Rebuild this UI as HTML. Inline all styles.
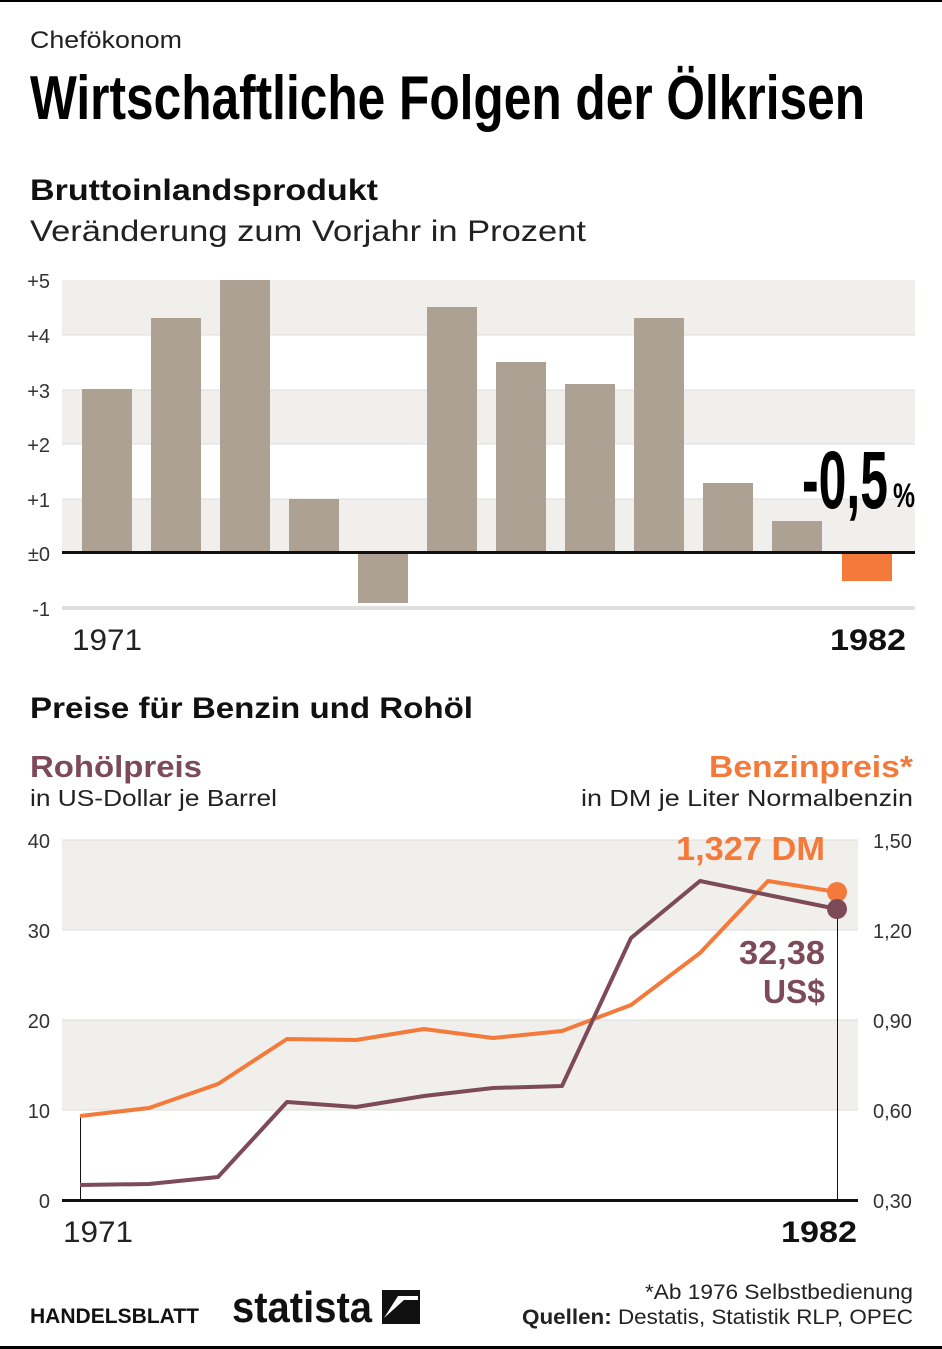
<!DOCTYPE html>
<html><head><meta charset="utf-8"><style>
html,body{margin:0;padding:0;background:#fff;}
svg{display:block;font-family:"Liberation Sans",sans-serif;}
</style></head><body>
<svg width="942" height="1349" viewBox="0 0 942 1349" xmlns="http://www.w3.org/2000/svg">
<rect x="0" y="0" width="942" height="2" fill="#000"/>
<rect x="0" y="1346" width="942" height="3" fill="#000"/>
<text x="30" y="48" font-size="24" fill="#222" textLength="152" lengthAdjust="spacingAndGlyphs">Chefökonom</text>
<text x="30" y="119" font-size="62" font-weight="bold" fill="#000" textLength="835" lengthAdjust="spacingAndGlyphs">Wirtschaftliche Folgen der Ölkrisen</text>
<text x="30" y="200" font-size="30" font-weight="bold" fill="#111" textLength="348" lengthAdjust="spacingAndGlyphs">Bruttoinlandsprodukt</text>
<text x="30" y="241" font-size="30" fill="#222" textLength="556" lengthAdjust="spacingAndGlyphs">Veränderung zum Vorjahr in Prozent</text>

<!-- top chart bands -->
<g fill="#f0efeb">
<rect x="62" y="280" width="853" height="55"/>
<rect x="62" y="390" width="853" height="54"/>
<rect x="62" y="499" width="853" height="54"/>
<rect x="62" y="606" width="853" height="4" fill="#e2e0dc"/>
</g>
<g stroke="#ddd" stroke-width="1">
<line x1="62" y1="335" x2="915" y2="335"/><line x1="62" y1="390" x2="915" y2="390"/>
<line x1="62" y1="444" x2="915" y2="444"/><line x1="62" y1="499" x2="915" y2="499"/>
</g>
<g font-size="20" fill="#333" text-anchor="end">
<text x="50" y="288">+5</text><text x="50" y="343">+4</text><text x="50" y="398">+3</text>
<text x="50" y="452">+2</text><text x="50" y="507">+1</text><text x="50" y="561">±0</text><text x="50" y="616">-1</text>
</g>
<g fill="#ada194">
<rect x="82" y="389" width="50" height="164"/>
<rect x="151" y="318" width="50" height="235"/>
<rect x="220" y="280" width="50" height="273"/>
<rect x="289" y="499" width="50" height="54"/>
<rect x="358" y="553" width="50" height="50"/>
<rect x="427" y="307" width="50" height="246"/>
<rect x="496" y="362" width="50" height="191"/>
<rect x="565" y="384" width="50" height="169"/>
<rect x="634" y="318" width="50" height="235"/>
<rect x="703" y="483" width="50" height="70"/>
<rect x="772" y="521" width="50" height="32"/>
</g>
<rect x="842" y="553" width="50" height="28" fill="#f47a3c"/>
<rect x="62" y="551" width="853" height="3" fill="#111"/>
<text x="802" y="508" font-size="82" font-weight="bold" fill="#000" textLength="86" lengthAdjust="spacingAndGlyphs">-0,5</text>
<text x="893" y="507" font-size="34" font-weight="bold" fill="#000" textLength="22" lengthAdjust="spacingAndGlyphs">%</text>
<text x="72" y="650" font-size="30" fill="#222" textLength="70" lengthAdjust="spacingAndGlyphs">1971</text>
<text x="830" y="650" font-size="30" font-weight="bold" fill="#111" textLength="76" lengthAdjust="spacingAndGlyphs">1982</text>

<text x="30" y="718" font-size="30" font-weight="bold" fill="#111" textLength="443" lengthAdjust="spacingAndGlyphs">Preise für Benzin und Rohöl</text>
<text x="30" y="777" font-size="31" font-weight="bold" fill="#7d4a5a" textLength="172" lengthAdjust="spacingAndGlyphs">Rohölpreis</text>
<text x="30" y="806" font-size="23" fill="#222" textLength="247" lengthAdjust="spacingAndGlyphs">in US-Dollar je Barrel</text>
<text x="709" y="777" font-size="31" font-weight="bold" fill="#f47a3c" textLength="204" lengthAdjust="spacingAndGlyphs">Benzinpreis*</text>
<text x="581" y="806" font-size="23" fill="#222" textLength="332" lengthAdjust="spacingAndGlyphs">in DM je Liter Normalbenzin</text>

<!-- bottom chart -->
<g fill="#f0efeb">
<rect x="62" y="840" width="796" height="90"/>
<rect x="62" y="1020" width="796" height="90"/>
</g>
<g stroke="#ddd" stroke-width="1">
<line x1="62" y1="840" x2="858" y2="840"/><line x1="62" y1="930" x2="858" y2="930"/>
<line x1="62" y1="1020" x2="858" y2="1020"/><line x1="62" y1="1110" x2="858" y2="1110"/>
</g>
<g font-size="20" fill="#333" text-anchor="end">
<text x="50" y="848">40</text><text x="50" y="938">30</text><text x="50" y="1028">20</text>
<text x="50" y="1118">10</text><text x="50" y="1208">0</text>
</g>
<g font-size="20" fill="#333">
<text x="873" y="848">1,50</text><text x="873" y="938">1,20</text><text x="873" y="1028">0,90</text>
<text x="873" y="1118">0,60</text><text x="873" y="1208">0,30</text>
</g>
<line x1="80.5" y1="1116" x2="80.5" y2="1200" stroke="#111" stroke-width="1"/>
<line x1="837.5" y1="909" x2="837.5" y2="1200" stroke="#111" stroke-width="1"/>
<polyline fill="none" stroke="#f47a3c" stroke-width="4" stroke-linejoin="round"
 points="80,1116 149,1108 218,1084 287,1039 356,1040 424,1029 493,1038 562,1031 631,1005 700,953 768,881 837,892"/>
<polyline fill="none" stroke="#7d4a5a" stroke-width="4" stroke-linejoin="round"
 points="80,1185 149,1184 218,1177 287,1102 356,1107 424,1096 493,1088 562,1086 631,938 700,881 768,895 837,909"/>
<circle cx="837" cy="892" r="10" fill="#f47a3c"/>
<circle cx="837" cy="909" r="10" fill="#7d4a5a"/>
<rect x="62" y="1199" width="796" height="3" fill="#111"/>
<text x="676" y="860" font-size="33" font-weight="bold" fill="#f47a3c" textLength="149" lengthAdjust="spacingAndGlyphs">1,327 DM</text>
<text x="739" y="964" font-size="33" font-weight="bold" fill="#7d4a5a" textLength="86" lengthAdjust="spacingAndGlyphs">32,38</text>
<text x="763" y="1003" font-size="33" font-weight="bold" fill="#7d4a5a" textLength="62" lengthAdjust="spacingAndGlyphs">US$</text>
<text x="63" y="1242" font-size="30" fill="#222" textLength="70" lengthAdjust="spacingAndGlyphs">1971</text>
<text x="781" y="1242" font-size="30" font-weight="bold" fill="#111" textLength="76" lengthAdjust="spacingAndGlyphs">1982</text>

<!-- footer -->
<text x="30" y="1323" font-size="21" font-weight="bold" fill="#111" textLength="169" lengthAdjust="spacingAndGlyphs">HANDELSBLATT</text>
<text x="232" y="1322" font-size="44" font-weight="bold" fill="#111" textLength="140" lengthAdjust="spacingAndGlyphs">statista</text>
<rect x="382" y="1290" width="38" height="34" fill="#111"/>
<path d="M384 1318 L404 1300 L418 1300 L418 1296 L398 1296 Z" fill="#fff"/>
<path d="M384 1320 L398 1320 L418 1304 L404 1304 Z" fill="#fff" opacity="0"/>
<text x="913" y="1299" font-size="21" fill="#222" text-anchor="end" textLength="268" lengthAdjust="spacingAndGlyphs">*Ab 1976 Selbstbedienung</text>
<text x="913" y="1324" font-size="21" fill="#222" text-anchor="end" textLength="391" lengthAdjust="spacingAndGlyphs"><tspan font-weight="bold">Quellen:</tspan> Destatis, Statistik RLP, OPEC</text>
</svg>
</body></html>
